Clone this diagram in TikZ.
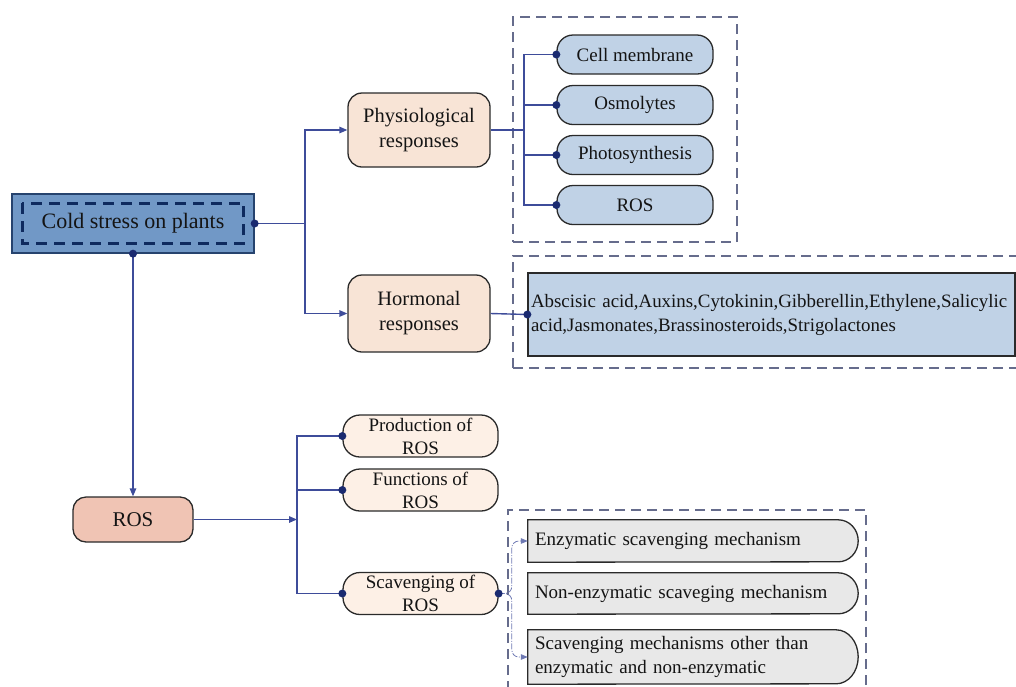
\documentclass[tikz,border=0pt]{standalone}
\usepackage{fontspec}
\setmainfont{Liberation Serif}
\usetikzlibrary{arrows.meta,backgrounds}
\definecolor{coldfill}{HTML}{7198C6}
\definecolor{coldline}{HTML}{26436E}
\definecolor{innerdash}{HTML}{0E2A5E}
\definecolor{bluefill}{HTML}{C0D2E6}
\definecolor{peach}{HTML}{F8E4D6}
\definecolor{salmon}{HTML}{F0C4B4}
\definecolor{lightpeach}{HTML}{FDF0E6}
\definecolor{greyfill}{HTML}{E8E8E8}
\definecolor{conncol}{HTML}{3E4C9A}
\definecolor{dotcol}{HTML}{1A2A70}
\definecolor{dashcol}{HTML}{666C8C}
\definecolor{bordcol}{HTML}{2A2A2A}
\definecolor{txtcol}{HTML}{141414}
\begin{document}
\begin{tikzpicture}[x=1pt,y=-1pt,
  every node/.style={text=txtcol},
  coldbox/.style={draw=coldline, line width=1.3pt, fill=coldfill, minimum width=242pt, minimum height=59pt, inner sep=0pt, font=\fontsize{22}{26}\selectfont},
  respbox/.style={draw=bordcol, line width=1.3pt, fill=peach, rounded corners=14pt, minimum width=142pt, inner sep=0pt, align=center, font=\fontsize{20.5}{25}\selectfont},
  bluepill/.style={draw=bordcol, line width=1.3pt, fill=bluefill, rounded corners=16pt, minimum width=156pt, minimum height=39pt, inner sep=0pt, font=\fontsize{19}{23}\selectfont},
  rosbox/.style={draw=bordcol, line width=1.3pt, fill=salmon, rounded corners=13pt, minimum width=120pt, minimum height=45pt, inner sep=0pt, font=\fontsize{21}{25}\selectfont},
  peachpill/.style={draw=bordcol, line width=1.3pt, fill=lightpeach, rounded corners=17pt, minimum width=155pt, minimum height=42pt, inner sep=0pt, align=center, font=\fontsize{19}{23}\selectfont},
  hormbox/.style={draw=bordcol, line width=1.3pt, fill=bluefill, minimum width=487pt, minimum height=83pt, inner xsep=3pt, inner ysep=0pt, text width=481pt, align=left, font=\fontsize{18.9}{24}\selectfont},
  greytext/.style={minimum width=330pt, inner xsep=7pt, inner ysep=0pt, text width=316pt, align=left, font=\fontsize{19}{24}\selectfont},
  greyshape/.style={draw=bordcol, line width=1.3pt, fill=greyfill},
  dbox/.style={draw=dashcol, line width=1.4pt, dash pattern=on 10pt off 6pt, inner sep=0pt},
  conn/.style={draw=conncol, line width=1.4pt},
  arr/.style={-{Triangle[length=8pt,width=6.5pt]}},
  thinarr/.style={-{Triangle[length=7pt,width=5.5pt]}},
  thinconn/.style={draw=conncol!75, line width=0.8pt, dash pattern=on 6pt off 1.5pt on 1pt off 1.5pt, rounded corners=7pt},
  dot/.style={fill=dotcol}
]
\useasboundingbox (0,0) rectangle (1016,686);

% dashed frames
\node[dbox, minimum width=224pt, minimum height=225pt] (frameA) at (625,129.5) {};
\node[dbox, minimum width=517pt, minimum height=112pt] (frameB) at (771.5,312) {};
\node[dbox, minimum width=358pt, minimum height=185pt] (frameC) at (687,602.5) {};

% root
\node[coldbox] (cold) at (133,223.5) {Cold stress on plants};
\draw[draw=innerdash, line width=2.6pt, dash pattern=on 11pt off 7pt]
  ([shift={(11pt,-10pt)}]cold.north west) rectangle ([shift={(-11pt,10pt)}]cold.south east);

% responses
\node[respbox, minimum height=74pt] (phys) at (419,130) {Physiological\\responses};
\node[respbox, minimum height=77pt] (horm) at (419,313.5) {Hormonal\\responses};

\node[bluepill] (cm) at (635,54.5) {Cell membrane};
\node[bluepill] (osm) at (635,105) {Osmolytes};
\node[bluepill] (pho) at (635,155) {Photosynthesis};
\node[bluepill] (ros1) at (635,205) {ROS};

\node[hormbox] (hlist) at (771.5,314.5) {Abscisic acid,Auxins,Cytokinin,Gibberellin,Ethylene,Salicylic\\acid,Jasmonates,Brassinosteroids,Strigolactones};

% ROS branch
\node[rosbox] (ros) at (133,519.5) {ROS};
\node[peachpill] (prod) at (420.5,436) {Production of\\ROS};
\node[peachpill] (func) at (420.5,490) {Functions of\\ROS};
\node[peachpill] (scav) at (420.5,593.5) {Scavenging of\\ROS};

\node[greytext, minimum height=42pt] (enz) at (693,541) {Enzymatic scavenging mechanism};
\node[greytext, minimum height=41pt] (nonenz) at (693,593.5) {Non-enzymatic scaveging mechanism};
\node[greytext, minimum height=54pt] (other) at (693,657) {Scavenging mechanisms other than\\enzymatic and non-enzymatic};
\begin{scope}[on background layer]
  \draw[greyshape] (enz.south west) -- (enz.north west) -- ([xshift=-20pt]enz.north east)
    arc[start angle=90, end angle=-90, x radius=20pt, y radius=21pt] -- cycle;
  \draw[greyshape] (nonenz.south west) -- (nonenz.north west) -- ([xshift=-20pt]nonenz.north east)
    arc[start angle=90, end angle=-90, x radius=20pt, y radius=20.5pt] -- cycle;
  \draw[greyshape] (other.south west) -- (other.north west) -- ([xshift=-22pt]other.north east)
    arc[start angle=90, end angle=-90, x radius=22pt, y radius=27pt] -- cycle;
\end{scope}

% connectors
\coordinate (j1) at (305,223.5);
\draw[conn] (cold.east) -- (j1);
\draw[conn,arr] (j1) |- (phys.west);
\draw[conn,arr] (j1) |- (horm.west);

\coordinate (j2) at (524,130);
\draw[conn] (phys.east) -- (j2);
\draw[conn] (j2) |- (cm.west);
\draw[conn] (j2) |- (osm.west);
\draw[conn] (j2) |- (pho.west);
\draw[conn] (j2) |- (ros1.west);

\draw[conn] (horm.east) -- (hlist.west);

\draw[conn,arr] (cold.south) -- (ros.north);

\coordinate (j3) at (297,519.5);
\draw[conn,arr] (ros.east) -- (j3);
\draw[conn] (j3) |- (prod.west);
\draw[conn] (j3) |- (func.west);
\draw[conn] (j3) |- (scav.west);

\draw[thinconn,thinarr] (scav.east) -| ([xshift=-16pt]enz.west) -- (enz.west);
\draw[thinconn,thinarr] (scav.east) -| ([xshift=-16pt]other.west) -- (other.west);

% dots
\foreach \p in {cold.east, cold.south, cm.west, osm.west, pho.west, ros1.west, hlist.west, prod.west, func.west, scav.west, scav.east}
  \fill[dot] (\p) circle[radius=4pt];
\end{tikzpicture}
\end{document}
